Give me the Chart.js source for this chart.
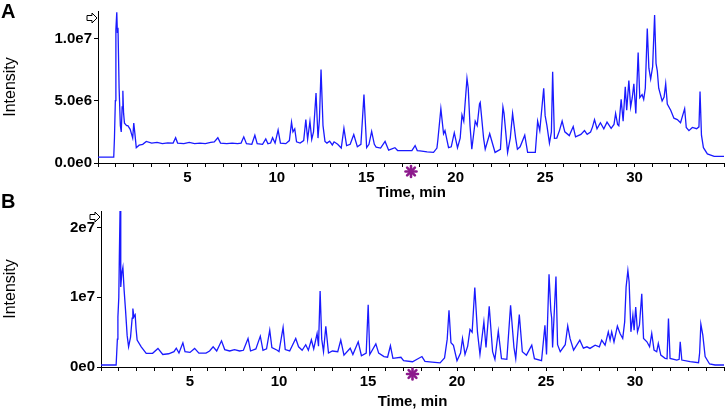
<!DOCTYPE html>
<html>
<head>
<meta charset="utf-8">
<script src="https://cdn.jsdelivr.net/npm/chart.js@4.4.0/dist/chart.umd.min.js"></script>
<style>
  body { margin: 0; background: #fff; }
  #wrap { position: relative; width: 726px; height: 412px; overflow: hidden; font-family: 'Liberation Sans', Arial, sans-serif; }
  canvas { position: absolute; left: 0; }
  .tag { position: absolute; left: 1px; font-weight: bold; font-size: 20px; line-height: 1; color: #000; }
</style>
</head>
<body>
<div id="wrap">
  <canvas id="chartA" width="726" height="200" style="top:0"></canvas>
  <canvas id="chartB" width="726" height="212" style="top:200px"></canvas>
  <div class="tag" style="top:1px">A</div>
  <div class="tag" style="top:191px">B</div>
</div>
<script>
// time (min), intensity (millions of counts)
var traceA = [
  [0, 0.47], [0.88, 0.47], [0.92, 2.0], [0.97, 5.0], [1.0, 10.7], [1.05, 12.1], [1.08, 10.6], [1.12, 10.7],
  [1.18, 6.0], [1.25, 3.0], [1.3, 2.5], [1.35, 4.5], [1.39, 5.8], [1.43, 4.0], [1.48, 3.2], [1.6, 3.0],
  [1.67, 3.0], [1.8, 2.7], [1.94, 2.0], [2.0, 3.2], [2.06, 2.4], [2.14, 1.23], [2.3, 1.43], [2.5, 1.5],
  [2.7, 1.73], [3.0, 1.6], [3.3, 1.65], [3.6, 1.55], [3.9, 1.62], [4.2, 1.6], [4.34, 2.03], [4.45, 1.6],
  [4.8, 1.55], [5.1, 1.65], [5.4, 1.55], [5.7, 1.6], [6.0, 1.55], [6.3, 1.65], [6.5, 1.7], [6.7, 2.03],
  [6.85, 1.6], [7.2, 1.55], [7.5, 1.6], [7.8, 1.55], [8.0, 1.6], [8.15, 2.1], [8.3, 1.55], [8.6, 1.5],
  [8.77, 2.23], [8.9, 1.55], [9.2, 1.5], [9.38, 1.93], [9.5, 1.55], [9.65, 1.6], [9.76, 2.03], [9.9, 1.6],
  [10.07, 2.65], [10.2, 1.6], [10.5, 1.55], [10.7, 1.8], [10.82, 3.28], [10.9, 2.5], [11.0, 2.73], [11.1, 1.7],
  [11.3, 1.6], [11.5, 1.8], [11.62, 3.48], [11.72, 1.9], [11.85, 3.33], [11.95, 1.9], [12.05, 2.5], [12.19, 5.62],
  [12.3, 2.0], [12.38, 3.5], [12.47, 7.5], [12.58, 3.0], [12.69, 1.73], [12.8, 1.6], [12.95, 1.75], [13.1, 1.45],
  [13.2, 1.7], [13.4, 1.5], [13.6, 1.2], [13.75, 2.78], [13.9, 1.4], [14.1, 1.5], [14.3, 2.28], [14.5, 1.3],
  [14.7, 1.5], [14.87, 5.49], [15.02, 1.23], [15.15, 1.5], [15.3, 2.53], [15.45, 1.5], [15.55, 1.27], [15.8, 1.2],
  [16.05, 1.73], [16.25, 1.03], [16.6, 1.23], [16.75, 1.0], [17.2, 1.0], [17.55, 1.0], [17.73, 1.4], [17.85, 1.0],
  [18.0, 0.98], [18.4, 0.9], [18.76, 0.85], [18.95, 1.2], [19.0, 1.83], [19.17, 4.36], [19.32, 2.35], [19.4, 2.6],
  [19.6, 1.23], [19.75, 1.3], [19.92, 2.43], [20.1, 1.23], [20.25, 2.0], [20.35, 3.86], [20.45, 3.35], [20.63, 6.79],
  [20.7, 6.0], [20.8, 3.0], [20.9, 1.1], [21.09, 3.36], [21.2, 3.0], [21.33, 4.74], [21.37, 4.86], [21.56, 1.98],
  [21.65, 1.1], [21.9, 2.35], [22.2, 0.85], [22.5, 1.1], [22.64, 4.49], [22.7, 4.0], [22.9, 0.85], [23.05, 2.0],
  [23.18, 3.98], [23.35, 2.0], [23.45, 1.1], [23.6, 1.3], [23.86, 2.23], [24.02, 0.85], [24.45, 0.85], [24.58, 3.36],
  [24.7, 2.6], [24.92, 6.0], [25.0, 3.8], [25.1, 3.0], [25.24, 1.6], [25.35, 2.5], [25.42, 7.32], [25.52, 1.98],
  [25.65, 2.0], [25.8, 2.6], [25.95, 3.36], [26.1, 2.5], [26.35, 2.2], [26.57, 2.93], [26.7, 2.1], [27.0, 2.3],
  [27.2, 2.6], [27.35, 2.3], [27.54, 2.48], [27.65, 2.9], [27.76, 3.48], [27.9, 2.75], [28.09, 3.23], [28.28, 2.75],
  [28.46, 3.28], [28.69, 2.78], [28.85, 3.1], [28.94, 3.98], [29.05, 3.1], [29.12, 2.99], [29.25, 5.11], [29.36, 3.35],
  [29.48, 6.11], [29.56, 4.24], [29.68, 6.62], [29.78, 4.49], [29.87, 5.24], [29.96, 6.36], [30.07, 3.98], [30.2, 8.87],
  [30.29, 5.24], [30.42, 5.49], [30.51, 5.1], [30.6, 6.0], [30.71, 10.8], [30.8, 7.61], [30.9, 6.74], [31.01, 7.74],
  [31.12, 11.88], [31.2, 8.0], [31.27, 7.4], [31.35, 6.0], [31.54, 4.98], [31.65, 5.3], [31.74, 6.36], [31.83, 4.74],
  [32.02, 4.24], [32.2, 3.6], [32.39, 3.48], [32.57, 3.23], [32.8, 4.36], [32.89, 2.85], [33.04, 2.6], [33.23, 2.85],
  [33.47, 2.75], [33.6, 2.9], [33.66, 5.74], [33.74, 2.23], [33.85, 1.23], [34.07, 0.73], [34.45, 0.53], [35.0, 0.53]
];

var traceB = [
  [0, 0.29], [0.85, 0.29], [0.92, 4.0], [0.95, 7.2], [1.0, 10.0], [1.03, 15.8], [1.07, 22.4], [1.1, 14.0],
  [1.12, 11.5], [1.17, 13.5], [1.23, 14.3], [1.3, 11.0], [1.38, 8.1], [1.47, 4.5], [1.55, 2.9], [1.66, 4.3],
  [1.75, 7.0], [1.79, 8.4], [1.85, 7.2], [1.92, 7.5], [1.97, 5.5], [2.03, 3.86], [2.26, 2.9], [2.54, 1.96],
  [2.9, 1.96], [3.2, 2.67], [3.47, 1.8], [3.8, 1.9], [4.1, 2.2], [4.23, 2.7], [4.38, 2.0], [4.6, 3.47],
  [4.72, 2.2], [5.0, 2.1], [5.26, 2.67], [5.5, 2.0], [5.9, 2.0], [6.1, 2.3], [6.3, 2.9], [6.5, 2.3],
  [6.77, 3.76], [6.95, 2.5], [7.23, 2.3], [7.5, 2.5], [7.79, 2.3], [8.0, 2.4], [8.26, 4.1], [8.4, 2.3],
  [8.7, 2.6], [8.95, 4.43], [9.1, 2.4], [9.3, 2.6], [9.48, 5.29], [9.6, 2.8], [9.9, 2.4], [10.0, 2.2],
  [10.23, 5.67], [10.35, 2.5], [10.6, 2.3], [10.94, 4.1], [11.1, 2.9], [11.3, 2.4], [11.5, 3.2], [11.65, 2.4],
  [11.82, 3.9], [11.95, 2.6], [12.14, 4.8], [12.22, 3.0], [12.31, 10.9], [12.4, 4.0], [12.5, 2.2], [12.63, 5.86],
  [12.78, 2.0], [13.0, 2.3], [13.3, 2.2], [13.47, 3.86], [13.65, 1.7], [14.0, 2.7], [14.15, 1.8], [14.45, 3.62],
  [14.63, 1.62], [14.9, 2.0], [15.01, 8.95], [15.1, 1.8], [15.44, 3.33], [15.6, 2.0], [15.9, 1.5], [16.1, 1.4],
  [16.26, 3.05], [16.4, 1.24], [16.85, 1.4], [17.0, 0.9], [17.5, 0.76], [18.03, 1.5], [18.2, 0.8], [18.6, 0.7],
  [19.05, 0.6], [19.3, 1.3], [19.45, 4.0], [19.55, 8.14], [19.66, 3.5], [19.8, 3.1], [20.0, 0.9], [20.2, 2.0],
  [20.31, 4.1], [20.45, 1.8], [20.6, 3.0], [20.73, 5.4], [20.85, 5.0], [21.0, 11.4], [21.15, 5.0], [21.29, 1.8],
  [21.51, 6.48], [21.63, 2.8], [21.81, 8.71], [22.0, 2.2], [22.13, 1.1], [22.32, 5.14], [22.5, 1.2], [22.8, 1.1],
  [23.01, 8.86], [23.2, 2.8], [23.3, 1.2], [23.5, 7.52], [23.67, 2.2], [23.9, 1.7], [24.2, 3.14], [24.35, 1.2],
  [24.75, 0.9], [24.94, 6.0], [25.03, 1.8], [25.17, 13.3], [25.27, 8.1], [25.32, 7.0], [25.37, 2.8], [25.56, 13.0],
  [25.65, 3.2], [25.8, 2.2], [26.08, 3.2], [26.22, 5.9], [26.35, 4.1], [26.55, 2.43], [26.9, 3.86], [27.1, 2.7],
  [27.3, 2.9], [27.47, 2.67], [27.76, 3.14], [28.0, 2.9], [28.13, 3.86], [28.32, 3.14], [28.5, 5.05], [28.6, 3.86],
  [28.69, 5.05], [28.82, 3.6], [29.01, 5.86], [29.16, 4.81], [29.31, 4.1], [29.42, 6.48], [29.5, 11.47], [29.6, 13.86],
  [29.67, 12.2], [29.77, 5.05], [29.88, 7.43], [29.95, 5.29], [30.04, 8.62], [30.14, 5.05], [30.25, 6.0], [30.38, 10.5],
  [30.48, 4.1], [30.67, 3.62], [30.82, 2.9], [30.94, 4.81], [31.07, 2.43], [31.22, 2.19], [31.31, 3.38], [31.45, 1.71],
  [31.69, 1.24], [31.8, 1.2], [31.88, 6.95], [31.97, 1.24], [32.35, 1.0], [32.48, 1.1], [32.54, 3.62], [32.63, 1.0],
  [33.1, 0.76], [33.57, 0.62], [33.63, 2.0], [33.7, 6.14], [33.81, 4.57], [33.94, 1.5], [34.19, 0.43], [34.5, 0.29],
  [35.0, 0.29]
];

var xTickLabels = [5, 10, 15, 20, 25, 30];
var yTicksA = [0, 5e6, 1e7];
var yLabelsA = ['0.0e0', '5.0e6', '1.0e7'];
var yTicksB = [0, 1e7, 2e7];
var yLabelsB = ['0e0', '1e7', '2e7'];
var markerTime = 17.5;

var FONT = "'Liberation Sans', Arial, sans-serif";

// little extras: the purple asterisk under the axis and the outline arrow at the y-axis top
var extras = {
  id: 'extras',
  afterDraw: function(chart, args, opts) {
    var ctx = chart.ctx, a = chart.chartArea;
    var mx = chart.scales.x.getPixelForValue(markerTime);
    var my = a.bottom + opts.markerGap;
    ctx.save();
    ctx.strokeStyle = '#8c1a8c';
    ctx.lineWidth = 2.6;
    ctx.lineCap = 'round';
    for (var k = 0; k < 4; k++) {
      var ang = k * Math.PI / 4;
      var dx = Math.cos(ang) * 5.5, dy = Math.sin(ang) * 5.5;
      ctx.beginPath();
      ctx.moveTo(mx - dx, my - dy);
      ctx.lineTo(mx + dx, my + dy);
      ctx.stroke();
    }
    // arrow
    var tx = a.left - 1, ty = a.top + opts.arrowDy;
    ctx.strokeStyle = '#000';
    ctx.lineWidth = 1;
    ctx.lineCap = 'butt';
    ctx.beginPath();
    ctx.moveTo(tx, ty);
    ctx.lineTo(tx - 5, ty - 5);
    ctx.lineTo(tx - 5, ty - 2.5);
    ctx.lineTo(tx - 10, ty - 2.5);
    ctx.lineTo(tx - 10, ty + 2.5);
    ctx.lineTo(tx - 5, ty + 2.5);
    ctx.lineTo(tx - 5, ty + 5);
    ctx.closePath();
    ctx.fillStyle = '#fff';
    ctx.fill();
    ctx.stroke();
    ctx.restore();
  }
};

function makeChart(id, trace, yMax, yTicks, yLabels, p) {
  var pts = trace.map(function(d) { return { x: d[0], y: d[1] * 1e6 }; });
  return new Chart(document.getElementById(id).getContext('2d'), {
    type: 'line',
    data: {
      datasets: [{
        data: pts,
        borderColor: '#1a1aff',
        borderWidth: 1.3,
        pointRadius: 0,
        tension: 0,
        fill: false
      }]
    },
    options: {
      responsive: false,
      animation: false,
      layout: { padding: { left: 0, top: p.top, right: 2, bottom: 0 } },
      plugins: {
        legend: { display: false },
        tooltip: { enabled: false },
        extras: { markerGap: p.markerGap, arrowDy: p.arrowDy }
      },
      scales: {
        x: {
          type: 'linear',
          min: 0,
          max: 35,
          grid: { drawOnChartArea: false, drawTicks: true, tickLength: 4, color: '#000' },
          border: { color: '#000', width: 1 },
          ticks: {
            stepSize: 1,
            autoSkip: false,
            maxRotation: 0,
            padding: 2,
            color: '#000',
            font: { family: FONT, size: 15, weight: 'bold' },
            callback: function(v) { return xTickLabels.indexOf(v) >= 0 ? String(v) : ''; }
          },
          title: {
            display: true,
            text: 'Time, min',
            color: '#000',
            font: { family: FONT, size: 15, weight: 'bold', lineHeight: 1 },
            padding: { top: 0, bottom: p.xTitlePad }
          },
          afterFit: function(s) { s.height = p.xHeight; }
        },
        y: {
          min: 0,
          max: yMax,
          grid: { drawOnChartArea: false, drawTicks: true, tickLength: 4, color: '#000' },
          border: { color: '#000', width: 1 },
          afterBuildTicks: function(s) { s.ticks = yTicks.map(function(v) { return { value: v }; }); },
          ticks: {
            padding: 2,
            color: '#000',
            font: { family: FONT, size: 15, weight: 'bold' },
            callback: function(v) { var i = yTicks.indexOf(v); return i >= 0 ? yLabels[i] : ''; }
          },
          title: {
            display: true,
            text: 'Intensity',
            color: '#000',
            font: { family: FONT, size: 16, lineHeight: 1.2 },
            padding: { top: 1, bottom: 0 }
          },
          afterFit: function(s) { s.width = p.yWidth; }
        }
      }
    },
    plugins: [extras]
  });
}

makeChart('chartA', traceA, 12.2e6, yTicksA, yLabelsA,
  { top: 1, xHeight: 37, yWidth: 98, xTitlePad: 0, markerGap: 8.5, arrowDy: 7 });
makeChart('chartB', traceB, 22.4e6, yTicksB, yLabelsB,
  { top: 10, xHeight: 45, yWidth: 101, xTitlePad: 2.5, markerGap: 7, arrowDy: 6 });
</script>
</body>
</html>
